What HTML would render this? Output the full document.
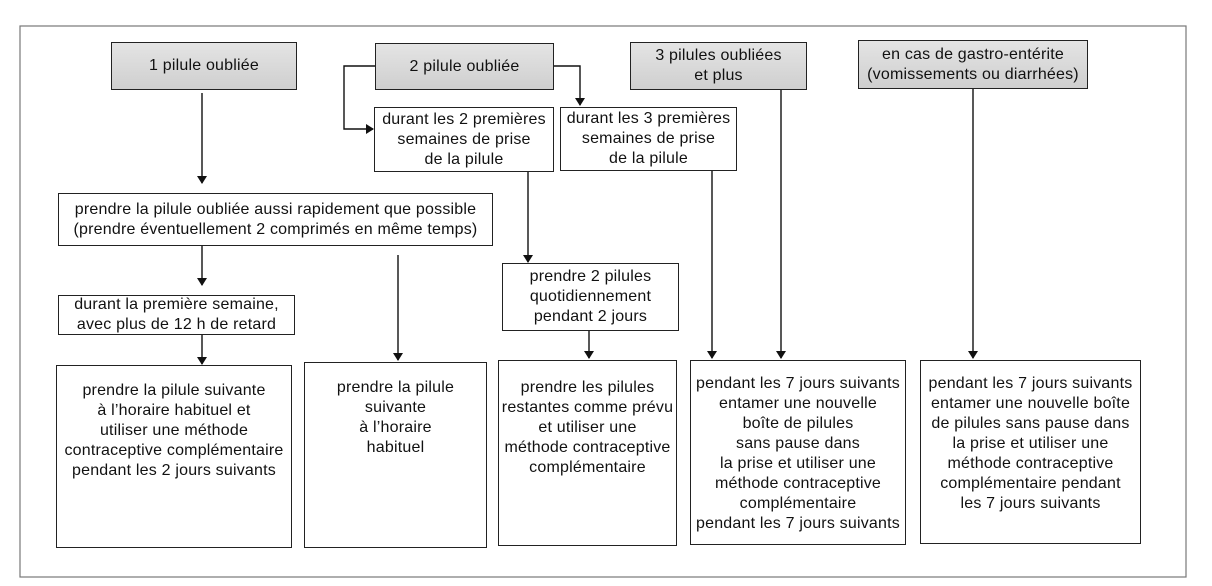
<!DOCTYPE html>
<html><head><meta charset="utf-8"><style>
body{margin:0;width:1212px;height:586px;background:#fff;position:relative;overflow:hidden;font-family:"Liberation Sans",sans-serif;color:#111}
.b{position:absolute;border:1.3px solid #222;box-sizing:border-box;text-align:center;font-size:16px;letter-spacing:0.2px;line-height:20px;background:#fff;white-space:nowrap}
.g{background:linear-gradient(#e4e4e4,#cfcfcf);display:flex;align-items:center;justify-content:center}
.c{display:flex;align-items:center;justify-content:center}
svg{position:absolute;left:0;top:0}
</style></head><body>
<svg width="1212" height="586">
<defs><marker id="a" markerWidth="8" markerHeight="10" refX="7" refY="5" orient="auto" markerUnits="userSpaceOnUse"><path d="M0,0 L8,5 L0,10z" fill="#111"/></marker></defs>
<rect x="20" y="26" width="1166" height="551" fill="none" stroke="#777" stroke-width="1.2"/>
<g stroke="#111" stroke-width="1.4" fill="none">
<path d="M202,93 V183" marker-end="url(#a)"/>
<path d="M375,66 H344 V129 H373" marker-end="url(#a)"/>
<path d="M554,66 H580 V105" marker-end="url(#a)"/>
<path d="M202,246 V285" marker-end="url(#a)"/>
<path d="M202,335 V364" marker-end="url(#a)"/>
<path d="M398,255 V360" marker-end="url(#a)"/>
<path d="M528,172 V262" marker-end="url(#a)"/>
<path d="M589,331 V358" marker-end="url(#a)"/>
<path d="M712,171 V358" marker-end="url(#a)"/>
<path d="M781,90 V358" marker-end="url(#a)"/>
<path d="M973,89 V358" marker-end="url(#a)"/>
</g></svg>
<div class="b g" style="left:111px;top:42px;width:186px;height:48px">1 pilule oubliée</div>
<div class="b g" style="left:375px;top:43px;width:179px;height:47px">2 pilule oubliée</div>
<div class="b g" style="left:630px;top:42px;width:177px;height:48px">3 pilules oubliées<br>et plus</div>
<div class="b g" style="left:858px;top:40px;width:230px;height:49px">en cas de gastro-entérite<br>(vomissements ou diarrhées)</div>
<div class="b c" style="left:374px;top:107px;width:180px;height:65px">durant les 2 premières<br>semaines de prise<br>de la pilule</div>
<div class="b c" style="left:560px;top:107px;width:177px;height:64px">durant les 3 premières<br>semaines de prise<br>de la pilule</div>
<div class="b c" style="left:58px;top:193px;width:435px;height:53px">prendre la pilule oubliée aussi rapidement que possible<br>(prendre éventuellement 2 comprimés en même temps)</div>
<div class="b c" style="left:502px;top:263px;width:177px;height:68px">prendre 2 pilules<br>quotidiennement<br>pendant 2 jours</div>
<div class="b c" style="left:58px;top:295px;width:237px;height:40px">durant la première semaine,<br>avec plus de 12 h de retard</div>
<div class="b" style="left:56px;top:365px;width:236px;height:183px;padding-top:15px">prendre la pilule suivante<br>à l’horaire habituel et<br>utiliser une méthode<br>contraceptive complémentaire<br>pendant les 2 jours suivants</div>
<div class="b" style="left:304px;top:362px;width:183px;height:186px;padding-top:15px">prendre la pilule<br>suivante<br>à l’horaire<br>habituel</div>
<div class="b" style="left:498px;top:360px;width:179px;height:186px;padding-top:17px">prendre les pilules<br>restantes comme prévu<br>et utiliser une<br>méthode contraceptive<br>complémentaire</div>
<div class="b" style="left:690px;top:360px;width:216px;height:185px;padding-top:13px">pendant les 7 jours suivants<br>entamer une nouvelle<br>boîte de pilules<br>sans pause dans<br>la prise et utiliser une<br>méthode contraceptive<br>complémentaire<br>pendant les 7 jours suivants</div>
<div class="b" style="left:920px;top:360px;width:221px;height:184px;padding-top:13px">pendant les 7 jours suivants<br>entamer une nouvelle boîte<br>de pilules sans pause dans<br>la prise et utiliser une<br>méthode contraceptive<br>complémentaire pendant<br>les 7 jours suivants</div>
</body></html>
